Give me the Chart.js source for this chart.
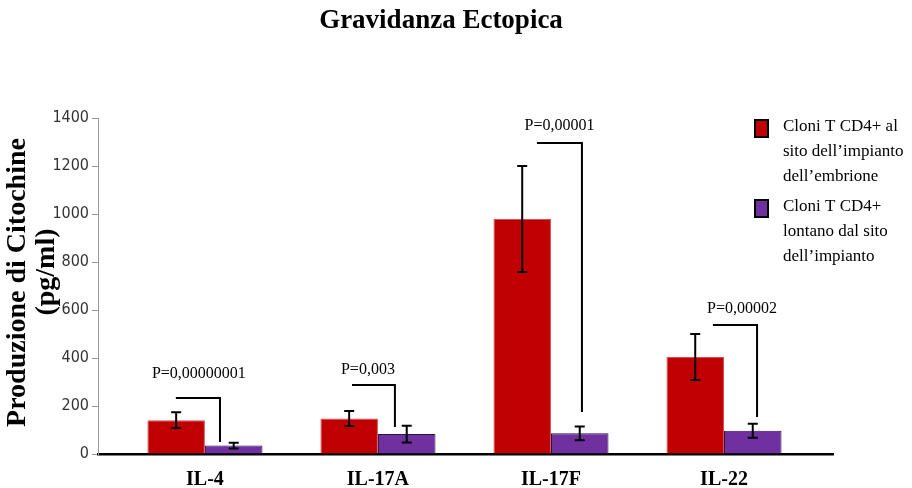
<!DOCTYPE html>
<html>
<head>
<meta charset="utf-8">
<script src="https://cdn.jsdelivr.net/npm/chart.js@4.4.0/dist/chart.umd.min.js"></script>
<style>
  body { margin: 0; background: #fff; }
  #wrap { width: 912px; height: 488px; }
</style>
</head>
<body>
<div id="wrap"><canvas id="chart"></canvas></div>
<script>
var categories = ['IL-4', 'IL-17A', 'IL-17F', 'IL-22'];

// Cloni T CD4+ al sito dell'impianto
var siteValues = [141, 148, 979, 404];
var siteErrors = [33, 31, 221, 96];

// Cloni T CD4+ lontano dal sito
var distantValues = [35, 83, 86, 97];
var distantErrors = [12, 35, 29, 29];

var yMax = 1400;
var yStep = 200;

// p-value brackets, x in category units, y in pg/ml
var pLabels = ['P=0,00000001', 'P=0,003', 'P=0,00001', 'P=0,00002'];
var bracketLeft = [-0.168, 0.85, 1.919, 2.936];
var bracketRight = [0.087, 1.098, 2.179, 3.191];
var bracketTop = [233, 287, 1296, 537];
var bracketBottom = [50, 112, 175, 154];
var pLabelX = [-0.035, 0.942, 2.049, 3.104];
var pLabelY = [333, 350, 1367, 604];

var legendLines = [
  ['Cloni T CD4+ al', 'sito dell\u2019impianto', 'dell\u2019embrione'],
  ['Cloni T CD4+', 'lontano dal sito', 'dell\u2019impianto']
];

var errorBars = {
  id: 'errorBars',
  afterDatasetsDraw: function (chart) {
    var ctx = chart.ctx;
    var y = chart.scales.y;
    var errs = [siteErrors, distantErrors];
    var vals = [siteValues, distantValues];
    ctx.save();
    ctx.strokeStyle = '#000';
    ctx.lineWidth = 2;
    [0, 1].forEach(function (d) {
      chart.getDatasetMeta(d).data.forEach(function (bar, i) {
        var top = y.getPixelForValue(vals[d][i] + errs[d][i]);
        var bot = y.getPixelForValue(vals[d][i] - errs[d][i]);
        ctx.beginPath();
        ctx.moveTo(bar.x, top); ctx.lineTo(bar.x, bot);
        ctx.moveTo(bar.x - 5, top); ctx.lineTo(bar.x + 5, top);
        ctx.moveTo(bar.x - 5, bot); ctx.lineTo(bar.x + 5, bot);
        ctx.stroke();
      });
    });
    // p-values
    ctx.fillStyle = '#000';
    ctx.font = '16px "Liberation Serif", serif';
    ctx.textAlign = 'center';
    ctx.textBaseline = 'middle';
    pLabels.forEach(function (t, i) {
      ctx.fillText(t, chart.scales.x.getPixelForValue(pLabelX[i]), y.getPixelForValue(pLabelY[i]));
    });
    ctx.restore();
  }
};

var sideLegend = {
  id: 'sideLegend',
  afterDraw: function (chart) {
    var ctx = chart.ctx;
    ctx.save();
    ctx.font = '17px "Liberation Serif", serif';
    ctx.textBaseline = 'middle';
    ctx.textAlign = 'left';
    legendLines.forEach(function (lines, i) {
      var top = 120 + i * 80;
      ctx.fillStyle = chart.data.datasets[i].backgroundColor;
      ctx.fillRect(755, top, 13, 17);
      ctx.lineWidth = 2;
      ctx.strokeStyle = '#000';
      ctx.strokeRect(755, top, 13, 17);
      ctx.fillStyle = '#000';
      lines.forEach(function (line, k) {
        ctx.fillText(line, 783, top + 7 + k * 25);
      });
    });
    ctx.restore();
  }
};

var datasets = [{
  label: legendLines[0].join(' '),
  data: siteValues.map(function (v, i) { return { x: i, y: v }; }),
  backgroundColor: '#C00000',
  borderColor: '#D85050',
  borderWidth: 1
}, {
  label: legendLines[1].join(' '),
  data: distantValues.map(function (v, i) { return { x: i, y: v }; }),
  backgroundColor: '#7030A0',
  borderColor: '#2B1145',
  borderWidth: 1
}];

pLabels.forEach(function (p, i) {
  datasets.push({
    type: 'line',
    label: p,
    data: [
      { x: bracketLeft[i], y: bracketTop[i] },
      { x: bracketRight[i], y: bracketTop[i] },
      { x: bracketRight[i], y: bracketBottom[i] }
    ],
    borderColor: '#000',
    borderWidth: 2,
    pointRadius: 0,
    fill: false,
    tension: 0
  });
});

var chart = new Chart(document.getElementById('chart'), {
  type: 'bar',
  data: { datasets: datasets },
  options: {
    responsive: true,
    maintainAspectRatio: false,
    animation: false,
    categoryPercentage: 0.665,
    barPercentage: 1,
    layout: { padding: { left: 49, right: 79, bottom: 0, top: 0 } },
    plugins: {
      legend: { display: false },
      tooltip: { enabled: false },
      title: {
        display: true,
        text: 'Gravidanza Ectopica',
        color: '#000',
        font: { family: '"Liberation Serif", serif', size: 27, weight: 'bold', lineHeight: 1.2 },
        padding: { top: 5, bottom: 80.6 }
      }
    },
    scales: {
      x: {
        type: 'linear',
        offset: false,
        min: -0.618,
        max: 3.63,
        grid: { display: false, drawTicks: false },
        border: { color: '#000', width: 2.5 },
        ticks: {
          stepSize: 1,
          includeBounds: false,
          autoSkip: false,
          maxRotation: 0,
          padding: 15,
          color: '#000',
          font: { family: '"Liberation Serif", serif', size: 20, weight: 'bold', lineHeight: 1.1 },
          callback: function (v) { return categories[v] !== undefined ? categories[v] : ''; }
        },
        afterFit: function (scale) { scale.height = 34; }
      },
      y: {
        min: 0,
        max: yMax,
        grid: { drawOnChartArea: false, drawTicks: true, tickLength: 6, color: '#9a9a9a' },
        border: { color: '#9a9a9a', width: 1 },
        ticks: {
          stepSize: yStep,
          padding: 3,
          color: '#333',
          font: { family: '"Liberation Sans Narrow", "DejaVu Sans Condensed", "Liberation Sans", sans-serif', size: 16 },
          callback: function (v) { return String(v); }
        },
        title: {
          display: true,
          // leading spaces lift the second line above the 600 tick, as in the original
          text: [' Produzione di Citochine', '    (pg/ml)'],
          color: '#000',
          font: { family: '"Liberation Serif", serif', size: 28, weight: 'bold', lineHeight: 1.036 },
          padding: { top: -45.5, bottom: 0 }
        },
        afterFit: function (scale) { scale.width = 49; }
      }
    }
  },
  plugins: [errorBars, sideLegend]
});
</script>
</body>
</html>
